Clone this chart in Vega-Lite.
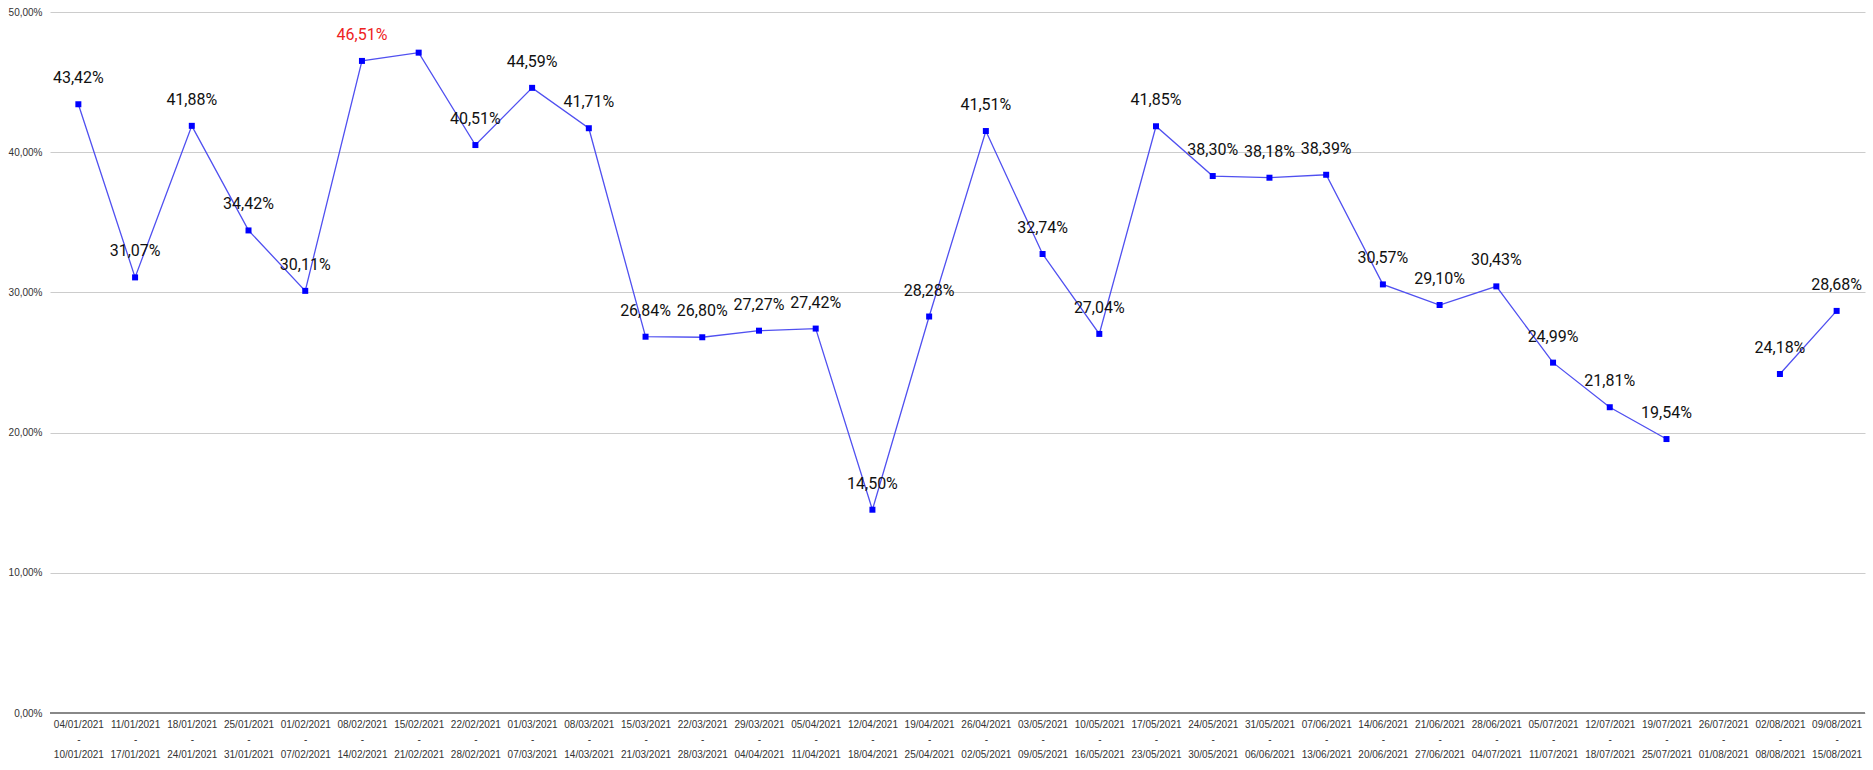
{
  "$schema": "https://vega.github.io/schema/vega-lite/v6.json",
  "autosize": "none",
  "width": 1815,
  "height": 701,
  "padding": {"left": 50, "top": 12, "right": 8, "bottom": 57},
  "background": "white",
  "data": {
    "values": [
      {"week": "04/01/2021 - 10/01/2021", "v": 43.42, "lab": "43,42%"},
      {"week": "11/01/2021 - 17/01/2021", "v": 31.07, "lab": "31,07%"},
      {"week": "18/01/2021 - 24/01/2021", "v": 41.88, "lab": "41,88%"},
      {"week": "25/01/2021 - 31/01/2021", "v": 34.42, "lab": "34,42%"},
      {"week": "01/02/2021 - 07/02/2021", "v": 30.11, "lab": "30,11%"},
      {"week": "08/02/2021 - 14/02/2021", "v": 46.51, "lab": "46,51%", "max": true},
      {"week": "15/02/2021 - 21/02/2021", "v": 47.1, "lab": ""},
      {"week": "22/02/2021 - 28/02/2021", "v": 40.51, "lab": "40,51%"},
      {"week": "01/03/2021 - 07/03/2021", "v": 44.59, "lab": "44,59%"},
      {"week": "08/03/2021 - 14/03/2021", "v": 41.71, "lab": "41,71%"},
      {"week": "15/03/2021 - 21/03/2021", "v": 26.84, "lab": "26,84%"},
      {"week": "22/03/2021 - 28/03/2021", "v": 26.8, "lab": "26,80%"},
      {"week": "29/03/2021 - 04/04/2021", "v": 27.27, "lab": "27,27%"},
      {"week": "05/04/2021 - 11/04/2021", "v": 27.42, "lab": "27,42%"},
      {"week": "12/04/2021 - 18/04/2021", "v": 14.5, "lab": "14,50%"},
      {"week": "19/04/2021 - 25/04/2021", "v": 28.28, "lab": "28,28%"},
      {"week": "26/04/2021 - 02/05/2021", "v": 41.51, "lab": "41,51%"},
      {"week": "03/05/2021 - 09/05/2021", "v": 32.74, "lab": "32,74%"},
      {"week": "10/05/2021 - 16/05/2021", "v": 27.04, "lab": "27,04%"},
      {"week": "17/05/2021 - 23/05/2021", "v": 41.85, "lab": "41,85%"},
      {"week": "24/05/2021 - 30/05/2021", "v": 38.3, "lab": "38,30%"},
      {"week": "31/05/2021 - 06/06/2021", "v": 38.18, "lab": "38,18%"},
      {"week": "07/06/2021 - 13/06/2021", "v": 38.39, "lab": "38,39%"},
      {"week": "14/06/2021 - 20/06/2021", "v": 30.57, "lab": "30,57%"},
      {"week": "21/06/2021 - 27/06/2021", "v": 29.1, "lab": "29,10%"},
      {"week": "28/06/2021 - 04/07/2021", "v": 30.43, "lab": "30,43%"},
      {"week": "05/07/2021 - 11/07/2021", "v": 24.99, "lab": "24,99%"},
      {"week": "12/07/2021 - 18/07/2021", "v": 21.81, "lab": "21,81%"},
      {"week": "19/07/2021 - 25/07/2021", "v": 19.54, "lab": "19,54%"},
      {"week": "26/07/2021 - 01/08/2021", "v": null, "lab": ""},
      {"week": "02/08/2021 - 08/08/2021", "v": 24.18, "lab": "24,18%"},
      {"week": "09/08/2021 - 15/08/2021", "v": 28.68, "lab": "28,68%"}
    ]
  },
  "encoding": {
    "x": {
      "field": "week",
      "type": "ordinal",
      "sort": null,
      "scale": {"paddingOuter": 0.5},
      "axis": {
        "title": null,
        "labelAngle": 0,
        "labelExpr": "split(datum.label, ' ')",
        "labelFont": "Liberation Sans",
        "labelFontSize": 10,
        "labelColor": "#333",
        "labelLineHeight": 15,
        "labelPadding": 6,
        "ticks": false,
        "domain": false,
        "grid": false
      }
    },
    "y": {
      "field": "v",
      "type": "quantitative",
      "scale": {"domain": [0, 50], "nice": false},
      "axis": {
        "title": null,
        "values": [0, 10, 20, 30, 40, 50],
        "labelExpr": "replace(format(datum.value / 100, '.2%'), '.', ',')",
        "labelFont": "Liberation Sans",
        "labelFontSize": 10,
        "labelColor": "#333",
        "ticks": false,
        "domain": false,
        "gridColor": "#cccccc",
        "labelPadding": 8
      }
    }
  },
  "layer": [
    {
      "mark": {"type": "rule", "color": "#888", "strokeWidth": 1.5},
      "encoding": {"y": {"datum": 0}, "x": null}
    },
    {
      "mark": {"type": "line", "color": "#5050f0", "strokeWidth": 1.3, "invalid": "break-paths-show-domains"}
    },
    {
      "mark": {"type": "square", "color": "#0000ff", "opacity": 1, "filled": true, "size": 36}
    },
    {
      "mark": {"type": "text", "dy": -26, "font": "Roboto", "fontSize": 16},
      "encoding": {
        "text": {"field": "lab"},
        "color": {
          "condition": {"test": "datum.max", "value": "#ee2222"},
          "value": "#111"
        }
      }
    }
  ],
  "config": {"view": {"stroke": null}}
}
